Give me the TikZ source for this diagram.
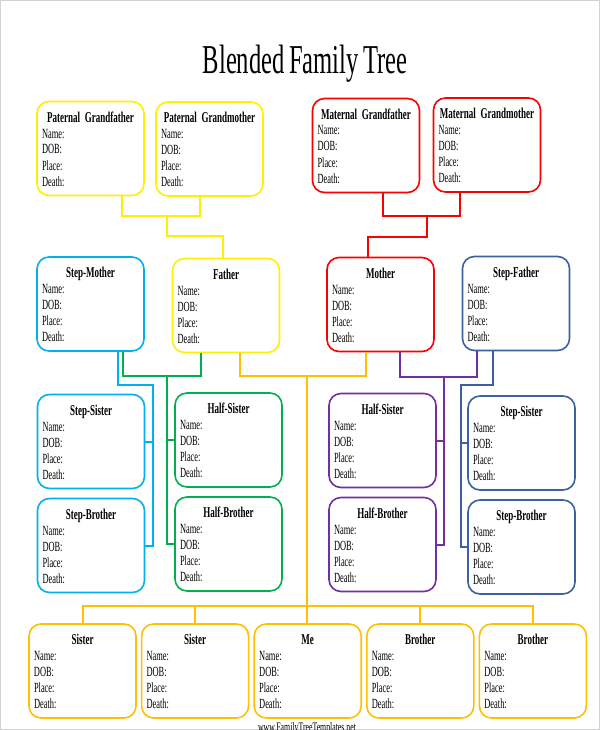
\documentclass[tikz,border=0pt]{standalone}
\usepackage{fontspec}
\setmainfont{Liberation Serif}[FakeStretch=0.6, WordSpace=0.7]
\usepackage{xcolor}
\usepackage{tikz}
\usetikzlibrary{positioning}
\tikzset{c-card/.style={rectangle, rounded corners=12pt, minimum width=107pt, minimum height=94pt, text width=97pt, inner xsep=5pt, align=left, draw=black, line width=1.6pt, fill=white, font=\fontsize{14}{16}\selectfont},
link/.style={line width=2pt}}
\definecolor{c_yellow}{RGB}{255,240,0}
\definecolor{c_red}{RGB}{250,0,0}
\definecolor{c_cyan}{RGB}{0,176,240}
\definecolor{c_green}{RGB}{0,176,80}
\definecolor{c_gold}{RGB}{255,192,0}
\definecolor{c_purple}{RGB}{112,48,160}
\definecolor{c_navy}{RGB}{61,97,160}
\newcommand{\card}[1]{{\centering\fontsize{15}{16}\selectfont\bfseries\strut #1\par}Name:\\DOB:\\Place:\\Death:}

\begin{document}
\begin{tikzpicture}[x=1pt, y=-1pt, node distance=104pt]
\useasboundingbox (0,0) rectangle (600,730);
\clip (0,0) rectangle (600,730);
\draw[gray!35, line width=1pt] (0.5,0.5) rectangle (599.5,729.5);
\node (title) at (305,64) {\fontsize{41}{44}\selectfont Blended Family Tree};
% grandparents
\node (pgf) [c-card, draw=c_yellow] at (90.5,148.5) {\card{Paternal Grandfather}};
\node (pgm) [c-card, draw=c_yellow] at (209.5,149) {\card{Paternal Grandmother}};
\node (mgf) [c-card, draw=c_red] at (366,145.5) {\card{Maternal Grandfather}};
\node (mgm) [c-card, draw=c_red] at (487,145) {\card{Maternal Grandmother}};
% parents
\node (sm) [c-card, draw=c_cyan] at (90.5,304) {\card{Step-Mother}};
\node (fa) [c-card, draw=c_yellow] at (226,305.5) {\card{Father}};
\node (mo) [c-card, draw=c_red] at (380.5,304.5) {\card{Mother}};
\node (sf) [c-card, draw=c_navy] at (516,303.5) {\card{Step-Father}};
% step and half siblings
\node (ss1) [c-card, draw=c_cyan] at (91,441.5) {\card{Step-Sister}};
\node (hs1) [c-card, draw=c_green] at (228.5,440) {\card{Half-Sister}};
\node (hs2) [c-card, draw=c_purple] at (382.5,440.5) {\card{Half-Sister}};
\node (ss2) [c-card, draw=c_navy] at (521.5,443) {\card{Step-Sister}};
\node (sb1) [c-card, below of=ss1, draw=c_cyan] {\card{Step-Brother}};
\node (hb1) [c-card, below of=hs1, draw=c_green] {\card{Half-Brother}};
\node (hb2) [c-card, below of=hs2, draw=c_purple] {\card{Half-Brother}};
\node (sb2) [c-card, below of=ss2, draw=c_navy] {\card{Step-Brother}};
% siblings
\node (sis1) [c-card, draw=c_gold] at (82.5,671) {\card{Sister}};
\node (sis2) [c-card, right=4pt of sis1, draw=c_gold] {\card{Sister}};
\node (me) [c-card, right=4pt of sis2, draw=c_gold] {\card{Me}};
\node (bro1) [c-card, right=4pt of me, draw=c_gold] {\card{Brother}};
\node (bro2) [c-card, right=4pt of bro1, draw=c_gold] {\card{Brother}};
\node (site) [anchor=north] at (307,719) {\fontsize{13}{14}\selectfont www.FamilyTreeTemplates.net};

\coordinate (pat) at (167,216);
\draw[link, c_yellow] ([xshift=31.5]pgf.south) |- (pat) -| ([xshift=-9.5]pgm.south);
\draw[link, c_yellow] (pat) -- ++(0,20) -| ([xshift=-3]fa.north);
\coordinate (mat) at (427,216);
\draw[link, c_red] ([xshift=17]mgf.south) |- (mat) -| ([xshift=-27]mgm.south);
\draw[link, c_red] (mat) -- ++(0,21) -| ([xshift=-12.5]mo.north);

\coordinate (cyan-bus) at (153,385);
\draw[link, c_cyan] ([xshift=27.5]sm.south) |- (cyan-bus) |- (sb1.east);
\draw[link, c_cyan] (ss1.east) -- (ss1.east -| cyan-bus);
\coordinate (green-bus) at (167,376);
\draw[link, c_green] ([xshift=32.5]sm.south) |- (green-bus) -| ([xshift=-25]fa.south);
\draw[link, c_green] (green-bus) |- (hb1.west);
\draw[link, c_green] (hs1.west) -- (hs1.west -| green-bus);
\coordinate (gold-bus) at (307,376);
\draw[link, c_gold] ([xshift=14]fa.south) |- (gold-bus) -| ([xshift=-14.5]mo.south);
\draw[link, c_gold] (gold-bus) -- (gold-bus |- me.north);
\coordinate (kids) at (307,606);
\draw[link, c_gold] (sis1.north) |- (kids) -| (bro2.north);
\draw[link, c_gold] (sis2.north) -- (sis2.north |- kids);
\draw[link, c_gold] (bro1.north) -- (bro1.north |- kids);
\coordinate (purple-bus) at (444,377);
\draw[link, c_purple] ([xshift=19.5]mo.south) |- (purple-bus) -| ([xshift=-39]sf.south);
\draw[link, c_purple] (purple-bus) |- (hb2.east);
\draw[link, c_purple] (hs2.east) -- (hs2.east -| purple-bus);
\coordinate (navy-bus) at (461,385);
\draw[link, c_navy] ([xshift=-23]sf.south) |- (navy-bus) |- (sb2.west);
\draw[link, c_navy] (ss2.west) -- (ss2.west -| navy-bus);
\end{tikzpicture}
\end{document}
